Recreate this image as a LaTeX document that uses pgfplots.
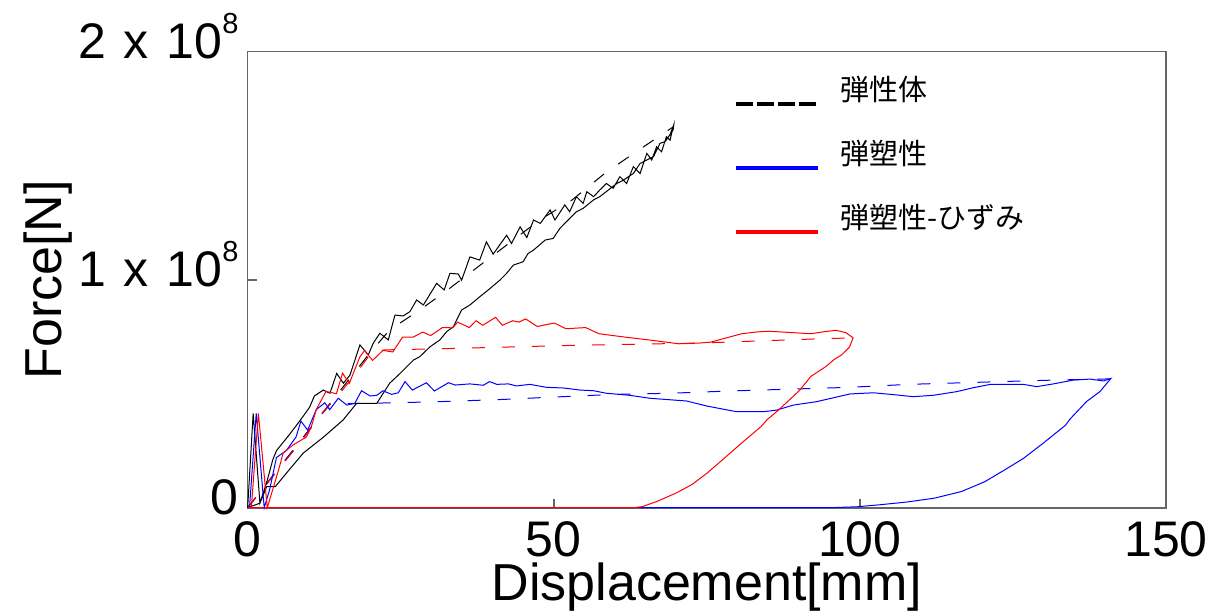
\documentclass[border=0pt]{standalone}
\usepackage{fontspec}
\setmainfont{Liberation Sans}
\newfontfamily\jp{Noto Sans CJK JP}
\usepackage{pgfplots}
\pgfplotsset{compat=1.18}

% "n x 10^8" tick label
\newcommand\sci[1]{#1\hspace{8.5pt}x\hspace{9pt}10\raisebox{12.5pt}{\fontsize{14.5}{15}\selectfont 8}}

\begin{document}
\begin{tikzpicture}
\begin{axis}[
  scale only axis, width=459.15pt, height=228pt,
  xmin=0, xmax=150, ymin=0, ymax=2,
  xtick={0,50,100,150}, xticklabels={0,50,100,150},
  ytick={0,1,2}, yticklabels={0,{\sci{1}},{\sci{2}}},
  tick pos=left, tick align=inside, major tick length=4.5pt,
  axis line style={black!60, line width=0.8pt},
  tick style={black!60, line width=0.8pt},
  tick label style={font=\fontsize{25}{30}\selectfont, inner sep=0pt},
  xticklabel style={anchor=base, yshift=-24.5pt},
  yticklabel style={anchor=base east, xshift=-4.4pt, yshift=-3.4pt},
  every axis x label/.style={at={(axis description cs:0.5,-0.2024)}, anchor=base,
    font=\fontsize{26}{30}\selectfont, inner sep=0pt},
  every axis y label/.style={at={(axis description cs:-0.2025,0.5)}, rotate=90, anchor=base,
    font=\fontsize{26}{30}\selectfont, inner sep=0pt},
  xlabel={Displacement[mm]}, ylabel={Force[N]},
  clip=false,
  legend style={at={(0.5296,0.9465)}, anchor=north west, draw=none, fill=none,
    inner sep=0pt, outer sep=0pt, row sep=17.2pt,
    font=\jp\fontsize{14.5}{16}\selectfont, nodes={inner sep=0pt},
    /tikz/every odd column/.append style={column sep=10.3pt}},
  legend cell align=left,
  legend image code/.code={\draw[#1] (0pt,-7pt) -- (41pt,-7pt);},
  dsh/.style={line width=0.5pt, dash pattern=on 6.5pt off 8.5pt},
  sld/.style={line width=0.5pt},
]
\path (rel axis cs:-0.2697,-0.2331) rectangle (rel axis cs:1.0621,1.1134);

% dashed runs
\addplot[forget plot, black, dsh] coordinates {
 (0,0) (5,0.17) (10,0.34) (15,0.51) (20,0.68) (23.2,0.78) (28,0.865) (32.4,0.95)
 (37.3,1.05) (42.7,1.16) (47.6,1.26) (53,1.35) (58.5,1.47) (63.4,1.56) (69.5,1.67)};
\addplot[forget plot, blue, dsh] coordinates {
 (0,0) (5,0.17) (10,0.34) (13.5,0.455) (20,0.458) (30,0.464) (41.8,0.475) (49,0.484)
 (59.8,0.497) (69,0.502) (78.8,0.512) (83.8,0.516) (98.3,0.528) (108,0.541)
 (123,0.553) (132,0.56) (141,0.565)};
\addplot[forget plot, red, dsh] coordinates {
 (0,0) (3,0.1) (6,0.2) (9,0.3) (12,0.41) (15,0.5) (18,0.6) (20.5,0.69) (23.7,0.693)
 (31.3,0.697) (53,0.712) (73.7,0.722) (92.5,0.74) (98.9,0.745)};

% elastic
\addplot[forget plot, black, sld] coordinates {
 (0,0) (0.9,0.414) (2.0,0.02) (3.2,0.12) (4.1,0.21) (4.7,0.25) (6.8,0.32) (8.5,0.38)
 (10.1,0.44) (10.9,0.49) (12.35,0.516) (13.44,0.502) (14.54,0.589) (15.63,0.546)
 (16.7,0.581) (18.34,0.714) (19.7,0.670) (20.5,0.721) (21.6,0.765) (22.97,0.736)
 (24.06,0.845) (25.4,0.841) (26.5,0.860) (27.6,0.911) (28.7,0.889) (30.87,0.984)
 (32.1,0.955) (33.04,1.028) (34.4,1.025) (34.95,0.998) (36.3,1.10) (37.9,1.086)
 (39.0,1.166) (40.1,1.112) (42.3,1.195) (43.1,1.159) (44.5,1.232) (45.6,1.185)
 (46.7,1.262) (47.8,1.247) (49.4,1.306) (50.2,1.262) (51.8,1.328) (52.6,1.298)
 (53.7,1.364) (54.8,1.335) (55.4,1.386) (56.5,1.364) (57.5,1.393) (58.6,1.422)
 (59.7,1.401) (60.8,1.452) (61.9,1.422) (63.0,1.496) (64.1,1.466) (65.2,1.554)
 (66.0,1.525) (66.8,1.583) (67.6,1.561) (68.4,1.627) (69.0,1.612) (69.5,1.671)
 (68.9,1.63) (69.4,1.665) (69.1,1.64) (69.6,1.68)
 (69.5,1.657) (68.2,1.606) (67.35,1.598) (66.3,1.540) (64.1,1.510) (63.0,1.466)
 (61.4,1.437) (60.3,1.422) (57.5,1.364) (56.5,1.350) (54.8,1.313) (53.7,1.298)
 (51.8,1.247) (51.0,1.225) (49.9,1.181) (48.6,1.174) (46.7,1.130) (45.8,1.115)
 (45.0,1.079) (43.4,1.064) (42.3,1.028) (41.2,0.998) (39.3,0.955) (37.9,0.925)
 (36.3,0.889) (34.95,0.867) (33.6,0.794) (32.5,0.772) (31.4,0.736) (29.8,0.706)
 (28.1,0.662) (27.1,0.648) (24.9,0.589) (23.2,0.546) (21.1,0.458) (17.8,0.458)
 (15.6,0.385) (12.4,0.31) (9.1,0.24) (6.9,0.17) (4.5,0.092) (3.1,0.092) (2.0,0.02) (0,0)};

% elasto-plastic
\addplot[forget plot, blue, sld] coordinates {
 (0,0) (0.3,0) (1.4,0.414) (2.7,0) (3.6,0.08) (4.7,0.22) (6.3,0.25) (7.9,0.31)
 (8.7,0.38) (9.8,0.34) (11.2,0.43) (12.6,0.46) (13.4,0.43) (14.8,0.48) (16.2,0.45)
 (17.5,0.458) (18.6,0.513) (20,0.49) (21.1,0.493) (22.1,0.513) (23.5,0.497)
 (24.6,0.504) (25.7,0.553) (26.9,0.516) (29.2,0.548) (30.5,0.512) (32.8,0.548)
 (33.9,0.538) (36.3,0.543) (38.5,0.537) (39.5,0.553) (40.7,0.541) (42.6,0.543)
 (43.9,0.534) (46.1,0.541) (48.8,0.528) (51.6,0.525) (54.3,0.516) (56.5,0.513)
 (58.6,0.502) (62.4,0.493) (65.7,0.48) (71.7,0.468) (75,0.446) (77.7,0.432)
 (79.9,0.421) (84.2,0.421) (86.4,0.428) (89.1,0.45) (92.9,0.465) (98.4,0.499)
 (102.2,0.504) (105.5,0.496) (108.7,0.487) (112,0.493) (115.8,0.509) (118.5,0.526)
 (121.3,0.541) (126.7,0.541) (128.9,0.531) (131.6,0.543) (134.9,0.56) (137.6,0.564)
 (139.8,0.556) (141,0.567) (139.2,0.509) (137,0.465) (134.3,0.388) (133.6,0.362)
 (129.9,0.282) (126.7,0.216) (123.6,0.165) (120.4,0.114) (116.6,0.071) (112.2,0.042)
 (107.7,0.025) (103.3,0.013) (99.5,0.004) (95,0) (0,0)};

% elasto-plastic with strain
\addplot[forget plot, red, sld] coordinates {
 (0,0) (0.6,0) (1.75,0.414) (3.2,0) (4.1,0.08) (5.2,0.18) (5.8,0.24) (7.4,0.275)
 (9.6,0.31) (10.4,0.355) (11.2,0.43) (12.8,0.51) (14.5,0.50) (15.5,0.59) (16.6,0.545)
 (18.3,0.66) (19.1,0.69) (20.4,0.646) (22.1,0.69) (23.7,0.683) (25.3,0.748) (27,0.748)
 (28.6,0.77) (29.9,0.755) (31.8,0.79) (33.5,0.789) (34.3,0.814) (36.2,0.79) (37.3,0.82)
 (38.4,0.80) (40.5,0.835) (41.6,0.80) (43.3,0.82) (44.3,0.814) (45.4,0.828) (47.3,0.795)
 (50.1,0.81) (52,0.785) (55.2,0.79) (57.4,0.763) (61.7,0.748) (66.1,0.734) (70.4,0.719)
 (73.7,0.722) (75.6,0.726) (78.2,0.745) (80.7,0.763) (83.2,0.771) (85.1,0.774)
 (88.9,0.768) (92,0.763) (93.9,0.771) (96.1,0.778) (97.7,0.768) (98.9,0.745)
 (98.3,0.704) (97,0.67) (95.7,0.648) (94.5,0.62) (92,0.576) (90.2,0.516) (86.7,0.428)
 (84.8,0.385) (83.9,0.357) (80.7,0.284) (77.6,0.211) (75.1,0.153) (72.6,0.102)
 (70.1,0.066) (67,0.029) (64.5,0.005) (63,0) (0,0)};

\addlegendimage{black, line width=2pt, dash pattern=on 8.5pt off 2pt}
\addlegendimage{blue, line width=2pt}
\addlegendimage{red, line width=2pt}
\legend{弾性体,弾塑性,弾塑性-ひずみ}
\end{axis}
\end{tikzpicture}
\end{document}
